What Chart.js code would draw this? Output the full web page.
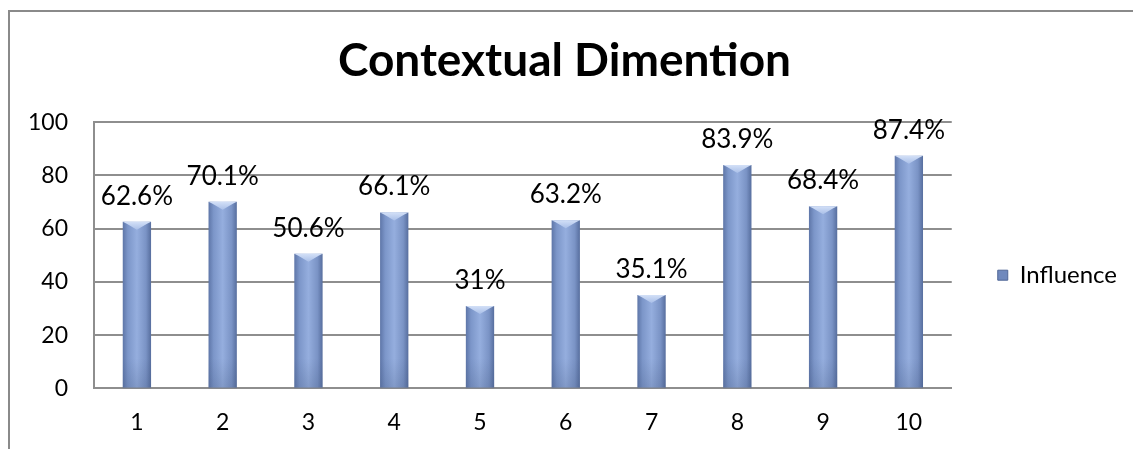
<!DOCTYPE html>
<html>
<head>
<meta charset="utf-8">
<script src="https://cdn.jsdelivr.net/npm/chart.js@4.4.1/dist/chart.umd.min.js"></script>
<style>
html, body { margin: 0; padding: 0; background: #fff; }
#wrap { width: 1133px; height: 449px; }
</style>
</head>
<body>
<div id="wrap"><canvas id="contextChart"></canvas></div>
<script>
const categories = ['1', '2', '3', '4', '5', '6', '7', '8', '9', '10'];
const influence = [62.6, 70.1, 50.6, 66.1, 31, 63.2, 35.1, 83.9, 68.4, 87.4];
const yTickValues = [0, 20, 40, 60, 80, 100];

const FONT = 'Lato, "Liberation Sans", sans-serif';
const GRID = '#8e8e8e';
const BAR_PCT = 0.33;

// white page + the grey frame around the whole chart
const framePlugin = {
    id: 'frame',
    beforeDraw(chart) {
        const c = chart.ctx;
        c.save();
        c.fillStyle = '#ffffff';
        c.fillRect(0, 0, chart.width, chart.height);
        c.strokeStyle = '#8a8a8a';
        c.lineWidth = 2;
        c.strokeRect(9, 11, chart.width + 20, chart.height + 20);
        c.restore();
    }
};

// "cylinder" look: horizontal gradient per bar (scriptable, so not shared)
function barGradient(context) {
    const chart = context.chart;
    const xs = chart.scales.x;
    if (!xs || context.type !== 'data') return '#7f98cb';
    const cx = xs.getPixelForValue(context.dataIndex);
    const half = xs.width / categories.length * BAR_PCT / 2;
    const g = chart.ctx.createLinearGradient(cx - half, 0, cx + half, 0);
    g.addColorStop(0, '#5e76a8');
    g.addColorStop(0.18, '#7c96c9');
    g.addColorStop(0.5, '#95aede');
    g.addColorStop(0.82, '#7a93c5');
    g.addColorStop(1, '#576e9e');
    return g;
}

// light bevel on the top of each bar and a slightly darker foot
const barCapPlugin = {
    id: 'barCap',
    afterDatasetsDraw(chart) {
        const c = chart.ctx;
        const base = chart.scales.y.getPixelForValue(0);
        c.save();
        chart.getDatasetMeta(0).data.forEach(bar => {
            const half = bar.width / 2;
            const depth = 8;
            const g = c.createLinearGradient(0, bar.y, 0, bar.y + depth);
            g.addColorStop(0, '#d3e0f7');
            g.addColorStop(1, '#a9bfe8');
            c.fillStyle = g;
            c.beginPath();
            c.moveTo(bar.x - half, bar.y);
            c.lineTo(bar.x + half, bar.y);
            c.lineTo(bar.x + half - 4, bar.y + 2);
            c.lineTo(bar.x, bar.y + depth);
            c.lineTo(bar.x - half + 4, bar.y + 2);
            c.closePath();
            c.fill();
            const gb = c.createLinearGradient(0, base - 30, 0, base);
            gb.addColorStop(0, 'rgba(60,80,120,0)');
            gb.addColorStop(1, 'rgba(60,80,120,0.22)');
            c.fillStyle = gb;
            c.fillRect(bar.x - half, base - 30, bar.width, 30);
        });
        c.restore();
    }
};

// value labels above the bars
const valueLabelPlugin = {
    id: 'valueLabels',
    afterDatasetsDraw(chart) {
        const c = chart.ctx;
        c.save();
        c.font = '26px ' + FONT;
        c.fillStyle = '#000000';
        c.textAlign = 'center';
        c.textBaseline = 'alphabetic';
        chart.getDatasetMeta(0).data.forEach((bar, i) => {
            c.fillText(influence[i] + '%', bar.x, bar.y - 17);
        });
        c.restore();
    }
};

const ctx = document.getElementById('contextChart').getContext('2d');
const contextChart = new Chart(ctx, {
    type: 'bar',
    data: {
        labels: categories,
        datasets: [{
            label: 'Influence',
            data: influence,
            backgroundColor: barGradient,
            borderWidth: 0,
            barPercentage: BAR_PCT,
            categoryPercentage: 1
        }]
    },
    options: {
        responsive: true,
        maintainAspectRatio: false,
        animation: false,
        layout: {
            padding: { top: 10, left: 2, right: 6, bottom: -7 }
        },
        plugins: {
            title: {
                display: true,
                text: 'Contextual Dimention',
                color: '#000000',
                font: { family: FONT, size: 46, weight: 'bold' },
                padding: { top: 24, bottom: 33 }
            },
            legend: {
                display: true,
                position: 'right',
                // empty legend title only used to push the item down a little
                title: { display: true, text: ' ', padding: { top: 35, bottom: 35 } },
                labels: {
                    color: '#000000',
                    font: { family: FONT, size: 24 },
                    boxWidth: 10,
                    boxHeight: 10,
                    padding: 46,
                    generateLabels(chart) {
                        return [{
                            text: chart.data.datasets[0].label,
                            fillStyle: '#7089bd',
                            strokeStyle: '#4f6696',
                            fontColor: '#000000',
                            lineWidth: 1,
                            datasetIndex: 0
                        }];
                    }
                }
            },
            tooltip: { enabled: false }
        },
        scales: {
            x: {
                grid: { display: false, drawTicks: false },
                border: { display: true, color: GRID, width: 2 },
                ticks: {
                    color: '#000000',
                    padding: 20,
                    font: { family: FONT, size: 23 }
                }
            },
            y: {
                min: 0,
                max: 100,
                afterBuildTicks(scale) {
                    scale.ticks = yTickValues.map(v => ({ value: v }));
                },
                grid: { color: GRID, lineWidth: 2, drawTicks: false },
                border: { display: true, color: GRID, width: 2 },
                ticks: {
                    color: '#000000',
                    padding: 26,
                    font: { family: FONT, size: 23 }
                }
            }
        }
    },
    plugins: [framePlugin, barCapPlugin, valueLabelPlugin]
});
</script>
</body>
</html>
